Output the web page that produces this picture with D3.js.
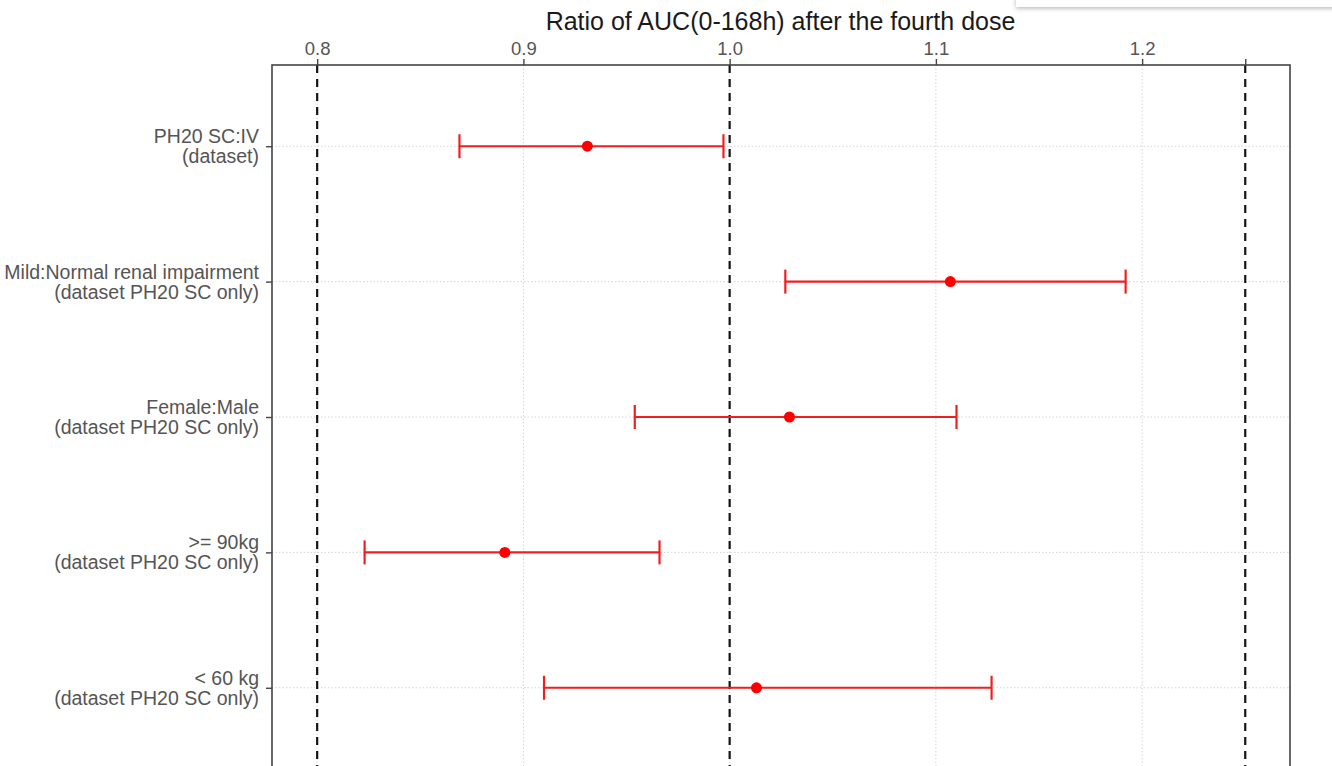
<!DOCTYPE html>
<html>
<head>
<meta charset="utf-8">
<script src="https://cdn.jsdelivr.net/npm/d3@7"></script>
<style>
  html, body { margin: 0; padding: 0; background: #fff; }
  svg { display: block; font-family: "Liberation Sans", Arial, sans-serif; }
</style>
</head>
<body>
<svg id="chart" width="1332" height="766"></svg>
<script>
// Forest plot: geometric mean ratios of AUC(0-168h) with 90% CI
const labelLine1 = ["PH20 SC:IV", "Mild:Normal renal impairment", "Female:Male", ">= 90kg", "< 60 kg"];
const labelLine2 = ["(dataset)", "(dataset PH20 SC only)", "(dataset PH20 SC only)", "(dataset PH20 SC only)", "(dataset PH20 SC only)"];
const ratio = [0.931, 1.107, 1.029, 0.891, 1.013];
const lower = [0.869, 1.027, 0.954, 0.823, 0.910];
const upper = [0.997, 1.192, 1.110, 0.966, 1.127];
const xTicks = [0.8, 0.9, 1.0, 1.1, 1.2];
const refLines = [0.8, 1.0, 1.25];
const title = "Ratio of AUC(0-168h) after the fourth dose";

const svg = d3.select("#chart");
const panel = { left: 272, right: 1290, top: 65, bottom: 769 };

const x = d3.scaleLinear().domain([0.7781, 1.2717]).range([panel.left, panel.right]);
const rows = d3.range(labelLine1.length);
const y = d3.scalePoint().domain(rows).range([panel.top, panel.bottom]).padding(0.6);

const red = "#f01f1f";

// top-right overlay shadow strip
const defs = svg.append("defs");
const f = defs.append("filter").attr("id", "shadow").attr("x", "-10%").attr("y", "-50%").attr("width", "120%").attr("height", "300%");
f.append("feDropShadow").attr("dx", 0).attr("dy", 1.5).attr("stdDeviation", 2).attr("flood-color", "#000").attr("flood-opacity", 0.28);
svg.append("rect").attr("x", 1016).attr("y", -20).attr("width", 340).attr("height", 27)
  .attr("fill", "#fff").attr("filter", "url(#shadow)");

// title
svg.append("text")
  .attr("x", (546 + 1015) / 2).attr("y", 30)
  .attr("text-anchor", "middle")
  .attr("font-size", 25).attr("fill", "#1a1a1a")
  .text(title);

// grid lines
const grid = svg.append("g");
grid.selectAll("line.vg").data(xTicks).join("line")
  .attr("x1", d => x(d)).attr("x2", d => x(d))
  .attr("y1", panel.top).attr("y2", panel.bottom)
  .attr("stroke", "#d4d4d4").attr("stroke-width", 1).attr("stroke-dasharray", "1.5,2");
grid.selectAll("line.hg").data(rows).join("line")
  .attr("x1", panel.left).attr("x2", panel.right)
  .attr("y1", d => y(d)).attr("y2", d => y(d))
  .attr("stroke", "#d4d4d4").attr("stroke-width", 1).attr("stroke-dasharray", "1.5,2");

// reference lines
svg.append("g").selectAll("line").data(refLines).join("line")
  .attr("x1", d => x(d)).attr("x2", d => x(d))
  .attr("y1", panel.top).attr("y2", panel.bottom)
  .attr("stroke", "#151515").attr("stroke-width", 2.2).attr("stroke-dasharray", "8,6");

// error bars
const eb = svg.append("g");
eb.selectAll("line.bar").data(rows).join("line")
  .attr("x1", i => x(lower[i])).attr("x2", i => x(upper[i]))
  .attr("y1", i => y(i)).attr("y2", i => y(i))
  .attr("stroke", red).attr("stroke-width", 2.2);
eb.selectAll("line.capL").data(rows).join("line")
  .attr("x1", i => x(lower[i])).attr("x2", i => x(lower[i]))
  .attr("y1", i => y(i) - 12).attr("y2", i => y(i) + 12)
  .attr("stroke", red).attr("stroke-width", 2.2);
eb.selectAll("line.capU").data(rows).join("line")
  .attr("x1", i => x(upper[i])).attr("x2", i => x(upper[i]))
  .attr("y1", i => y(i) - 12).attr("y2", i => y(i) + 12)
  .attr("stroke", red).attr("stroke-width", 2.2);
eb.selectAll("circle").data(rows).join("circle")
  .attr("cx", i => x(ratio[i])).attr("cy", i => y(i)).attr("r", 5.5)
  .attr("fill", "#ff0000");

// panel border
svg.append("rect")
  .attr("x", panel.left).attr("y", panel.top)
  .attr("width", panel.right - panel.left).attr("height", panel.bottom - panel.top)
  .attr("fill", "none").attr("stroke", "#444").attr("stroke-width", 1.6);

// top axis
const xAxis = d3.axisTop(x).tickValues(xTicks.concat([1.25]))
  .tickFormat(d => xTicks.includes(d) ? d3.format(".1f")(d) : "")
  .tickSize(6).tickPadding(4);
const gx = svg.append("g").attr("transform", `translate(0,${panel.top})`).call(xAxis);
gx.select(".domain").remove();
gx.selectAll(".tick line").attr("stroke", "#444").attr("stroke-width", 1.4);
gx.selectAll(".tick text").attr("font-size", 18.5).attr("fill", "#555")
  .attr("font-family", "'Liberation Sans', Arial, sans-serif");

// left axis with two-line labels
const yAxis = d3.axisLeft(y).tickSize(6).tickFormat("");
const gy = svg.append("g").attr("transform", `translate(${panel.left},0)`).call(yAxis);
gy.select(".domain").remove();
gy.selectAll(".tick line").attr("stroke", "#444").attr("stroke-width", 1.4);

const lab = svg.append("g").attr("font-size", 19.5).attr("fill", "#555").attr("text-anchor", "end");
lab.selectAll("text.l1").data(rows).join("text")
  .attr("x", 259).attr("y", i => y(i) - 3).text(i => labelLine1[i]);
lab.selectAll("text.l2").data(rows).join("text")
  .attr("x", 259).attr("y", i => y(i) + 17).text(i => labelLine2[i]);
</script>
</body>
</html>
